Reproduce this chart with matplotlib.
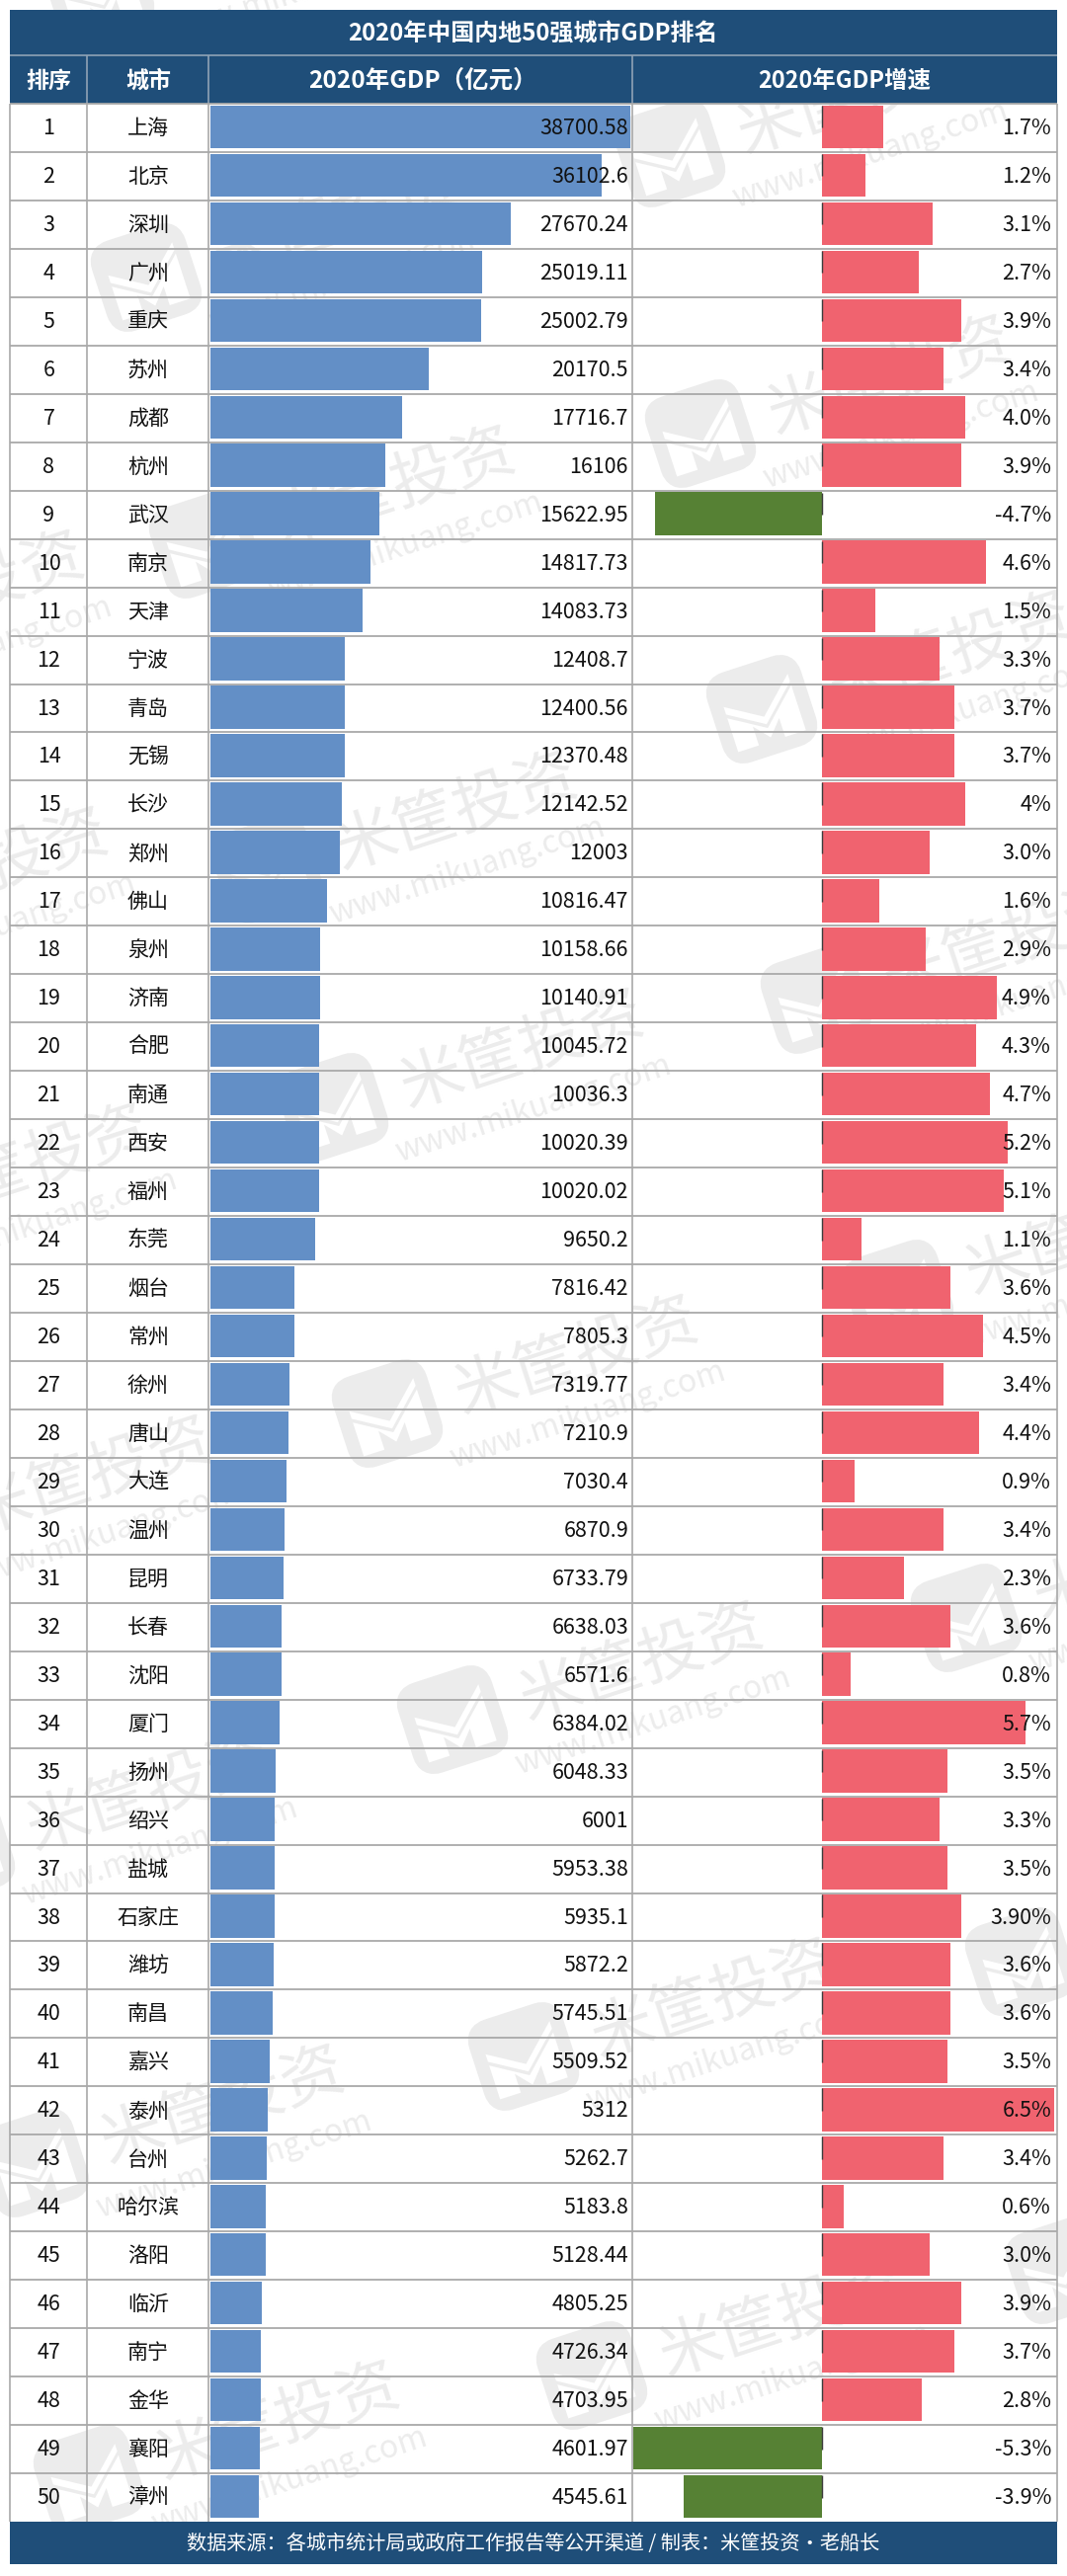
import matplotlib
matplotlib.use('Agg')
import matplotlib.pyplot as plt
from matplotlib.patches import FancyBboxPatch, Polygon, Rectangle
from matplotlib.transforms import Affine2D
import numpy as np

plt.rcParams['font.family'] = ['Noto Sans CJK SC', 'DejaVu Sans']

W, H = 1080, 2608

title = '2020年中国内地50强城市GDP排名'
headers = ['排序', '城市', '2020年GDP（亿元）', '2020年GDP增速']
footer = '数据来源：各城市统计局或政府工作报告等公开渠道 / 制表：米筐投资·老船长'

cities = ['上海', '北京', '深圳', '广州', '重庆', '苏州', '成都', '杭州', '武汉', '南京',
          '天津', '宁波', '青岛', '无锡', '长沙', '郑州', '佛山', '泉州', '济南', '合肥',
          '南通', '西安', '福州', '东莞', '烟台', '常州', '徐州', '唐山', '大连', '温州',
          '昆明', '长春', '沈阳', '厦门', '扬州', '绍兴', '盐城', '石家庄', '潍坊', '南昌',
          '嘉兴', '泰州', '台州', '哈尔滨', '洛阳', '临沂', '南宁', '金华', '襄阳', '漳州']
gdp = [38700.58, 36102.6, 27670.24, 25019.11, 25002.79, 20170.5, 17716.7, 16106, 15622.95, 14817.73,
       14083.73, 12408.7, 12400.56, 12370.48, 12142.52, 12003, 10816.47, 10158.66, 10140.91, 10045.72,
       10036.3, 10020.39, 10020.02, 9650.2, 7816.42, 7805.3, 7319.77, 7210.9, 7030.4, 6870.9,
       6733.79, 6638.03, 6571.6, 6384.02, 6048.33, 6001, 5953.38, 5935.1, 5872.2, 5745.51,
       5509.52, 5312, 5262.7, 5183.8, 5128.44, 4805.25, 4726.34, 4703.95, 4601.97, 4545.61]
growth = [1.7, 1.2, 3.1, 2.7, 3.9, 3.4, 4.0, 3.9, -4.7, 4.6,
          1.5, 3.3, 3.7, 3.7, 4.0, 3.0, 1.6, 2.9, 4.9, 4.3,
          4.7, 5.2, 5.1, 1.1, 3.6, 4.5, 3.4, 4.4, 0.9, 3.4,
          2.3, 3.6, 0.8, 5.7, 3.5, 3.3, 3.5, 3.9, 3.6, 3.6,
          3.5, 6.5, 3.4, 0.6, 3.0, 3.9, 3.7, 2.8, -5.3, -3.9]
growth_labels = ['%.1f%%' % g for g in growth]
growth_labels[14] = '4%'
growth_labels[37] = '3.90%'

# watermark icon centres, pixels of the picture
wm_spots = [(678, 155), (709, 439), (771, 718), (826, 1012), (909, 1310), (978, 1638), (1033, 1986), (1074, 2298),
            (100, -10), (148, 281), (207, 551), (270, 880), (337, 1121), (392, 1431), (458, 1741), (530, 2082), (599, 2405),
            (-229, 657), (-205, 937), (-163, 1237), (-100, 1553), (-41, 1873), (34, 2190), (90, 2510)]

NAVY = '#1f4e79'
GRID = '#a9a9a9'
BLUE = '#638fc6'
RED = '#f0636f'
GREEN = '#568134'
WM = '#ececec'

LEFT, RIGHT = 9.5, 1069.5
TOP, HEAD1, HEAD2, TABLE_END, FOOT_END = 9.5, 56, 105, 2553, 2596
COLS = [88, 211, 640]
ROW = (TABLE_END - HEAD2) / 50


def px(size):
    return size * 0.72


def px_axes(fig, x0, y0, x1, y1):
    ax = fig.add_axes([x0 / W, 1 - y1 / H, (x1 - x0) / W, (y1 - y0) / H])
    ax.patch.set_alpha(0)
    ax.axis('off')
    return ax


def draw_watermark(ax, cx, cy):
    a = np.deg2rad(18)
    tr = Affine2D().rotate_deg(-18).translate(cx, cy) + ax.transData
    ax.add_patch(FancyBboxPatch((-40, -38), 80, 76, boxstyle='round,pad=0,rounding_size=14',
                                fc=WM, ec=WM, lw=14, transform=tr))
    ax.add_patch(Polygon([(-36, -14), (0, 8), (36, -26), (36, -18), (0, 16), (-36, -6)],
                         fc='white', ec='none', transform=tr))
    ax.add_patch(Polygon([(-36, -2), (0, 20), (36, -14), (36, 34), (14, 34), (14, 14), (0, 30),
                          (-14, 14), (-14, 34), (-36, 34)],
                         fc='white', ec='none', transform=tr))
    for u, v, s, size, w in [(200, 6, '米筐投资', 64, 'medium'), (192, 64, 'www.mikuang.com', 32, 'normal')]:
        ax.text(cx + u * np.cos(a) + v * np.sin(a), cy - u * np.sin(a) + v * np.cos(a), s,
                color=WM, fontsize=px(size), fontweight=w, rotation=18, rotation_mode='anchor',
                ha='center', va='center', clip_on=True)


fig = plt.figure(figsize=(W / 100, H / 100), dpi=100, facecolor='white')

# watermark goes under everything else
bg = fig.add_axes([0, 0, 1, 1], zorder=0)
bg.set_xlim(0, W)
bg.set_ylim(H, 0)
bg.axis('off')
for cx, cy in wm_spots:
    draw_watermark(bg, cx, cy)

# GDP bars
ax1 = px_axes(fig, 212.5, HEAD2, 638, TABLE_END)
ax1.set_zorder(1)
ax1.set_xlim(0, max(gdp))
ax1.set_ylim(50, 0)
ypos = np.arange(50) + 0.48
ax1.barh(ypos, gdp, height=0.888, color=BLUE, linewidth=0)

# growth bars
ax2 = px_axes(fig, 641, HEAD2, 1067, TABLE_END)
ax2.set_zorder(1)
ax2.set_xlim(min(growth), max(growth))
ax2.set_ylim(50, 0)
ax2.barh(ypos, growth, height=0.888, color=[RED if g > 0 else GREEN for g in growth], linewidth=0)
for i in range(50):
    ax2.vlines(-0.02, i + 0.04, i + 0.5, color='#3c3c3c', lw=1.0)

# table frame, header, texts
top = fig.add_axes([0, 0, 1, 1], zorder=2)
top.patch.set_alpha(0)
top.set_xlim(0, W)
top.set_ylim(H, 0)
top.axis('off')

top.add_patch(Rectangle((LEFT, TOP), RIGHT - LEFT, HEAD2 - TOP, fc=NAVY, ec='none'))
top.add_patch(Rectangle((LEFT, TABLE_END), RIGHT - LEFT, FOOT_END - TABLE_END, fc=NAVY, ec='none'))
top.hlines(HEAD1, LEFT, RIGHT, color='#8fa3b6', lw=1.2)
top.vlines(COLS, HEAD1, HEAD2, color='#8fa3b6', lw=1.2)
top.hlines(HEAD2 + ROW * np.arange(0, 50), LEFT, RIGHT, color=GRID, lw=1.3)
top.vlines(COLS + [LEFT, RIGHT], HEAD2, TABLE_END, color=GRID, lw=1.2)

top.text(539, 34, title, color='white', fontsize=px(24), fontweight='bold', ha='center', va='center')
for x, s, size in zip([49, 150, 428, 855], headers, [23, 23, 24.5, 23.5]):
    top.text(x, 82, s, color='white', fontsize=px(size), fontweight='bold', ha='center', va='center')
top.text(540, 2575, footer, color='white', fontsize=px(20.2), fontweight='medium', ha='center', va='center')

for i in range(50):
    y = HEAD2 + ROW * (i + 0.48) + 1.5
    top.text(49.5, y, str(i + 1), color='#111111', fontsize=px(21.5), ha='center', va='center')
    top.text(150, y, cities[i], color='#111111', fontsize=px(21), ha='center', va='center')
    top.text(636, y, str(gdp[i]), color='#111111', fontsize=px(21.5), ha='right', va='center')
    top.text(1064, y, growth_labels[i], color='#111111', fontsize=px(21.5), ha='right', va='center')

fig.savefig('out.png', dpi=100, facecolor='white')
